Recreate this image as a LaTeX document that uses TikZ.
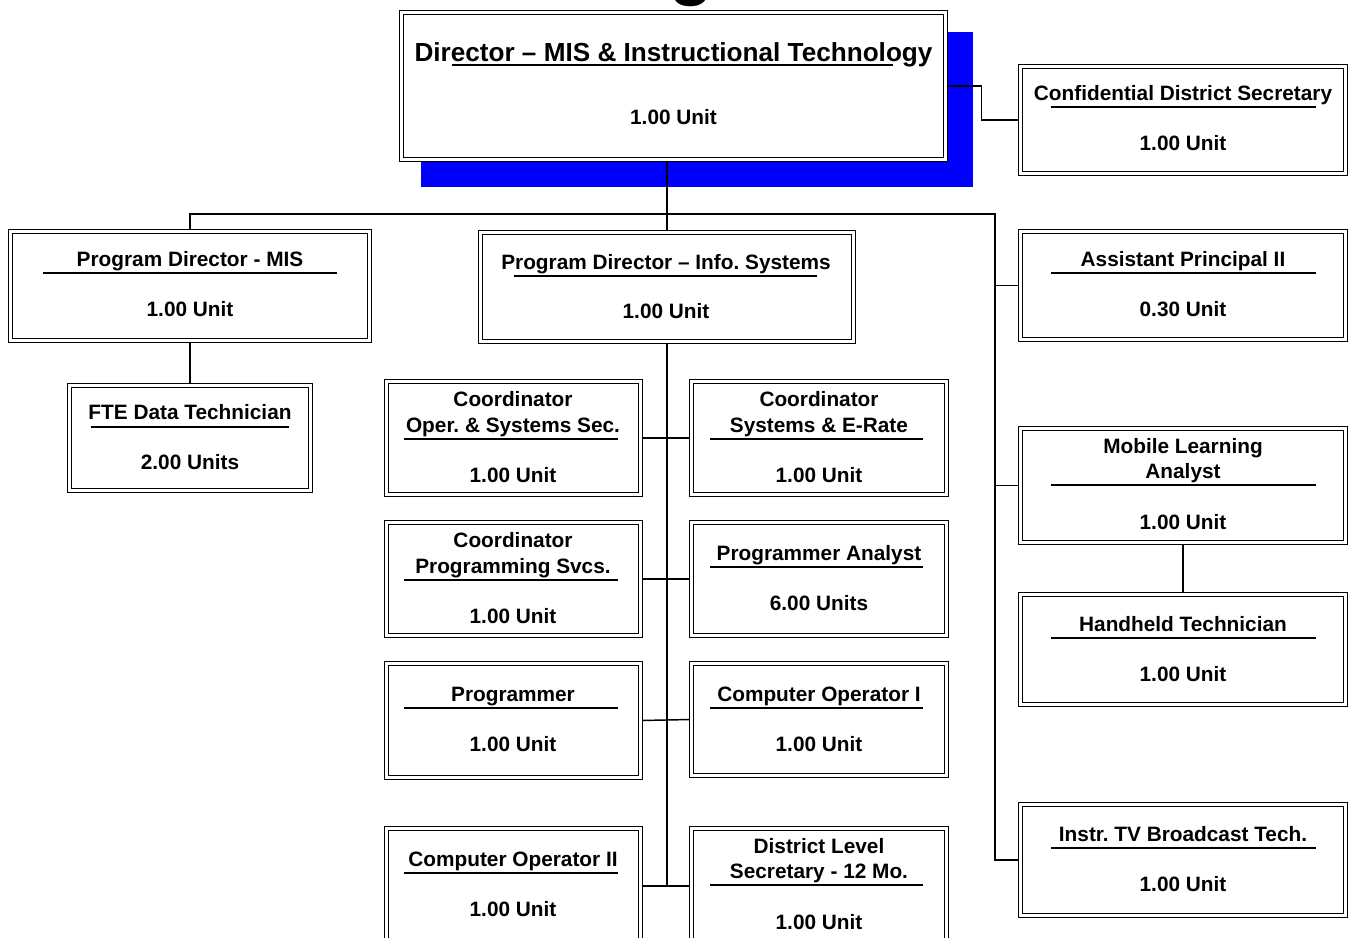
\documentclass[tikz,border=0pt]{standalone}
\usepackage{fontspec}
\setmainfont{Liberation Sans}
\frenchspacing
\begin{document}
\begin{tikzpicture}[x=0.75pt,y=-0.75pt,
  obx/.style={draw=black, fill=white, double=white, double distance=2.4pt*0.75,
    line width=1.05pt, rectangle, inner sep=0pt, outer sep=0pt},
  conn/.style={draw=black, line width=1.1pt},
  ul/.style={draw=black, line width=1.1pt},
  txt/.style={inner sep=0pt, anchor=base, font=\fontsize{15.6}{18}\selectfont\bfseries},
  bigtxt/.style={inner sep=0pt, anchor=base, font=\fontsize{19.6}{22}\selectfont\bfseries}]
\definecolor{shadowblue}{RGB}{0,0,255}
\useasboundingbox (0,0) rectangle (1354,938);
\clip (0,0) rectangle (1354,938);
\newcommand\obox[5]{\node[obx, minimum width={(#4-#2-5)*0.75pt}, minimum height={(#5-#3-5)*0.75pt}] (#1) at ({(#2+#4)/2},{(#3+#5)/2}) {};}
\newcommand\uline[3]{\draw[ul] (#1,#3) -- (#2,#3);}

% cut-off title
\node[inner sep=0pt, anchor=base, font=\fontsize{54}{54}\selectfont\bfseries] (title) at (691,-8) {g};

% shadow
\fill[shadowblue] (421,32) rectangle (973,187);

% boxes (drawn once to get anchors, connectors drawn below, then boxes again on top)
\obox{Dir}{399}{10}{948}{162}
\obox{Conf}{1018}{64}{1348}{176}
\obox{PDMIS}{8}{229}{372}{343}
\obox{InfoSys}{478}{230}{856}{344}
\obox{FTE}{67}{383}{313}{493}
\obox{AP}{1018}{229}{1348}{342}
\obox{COSS}{384}{379}{643}{497}
\obox{CSER}{689}{379}{949}{497}
\obox{CPS}{384}{520}{643}{638}
\obox{PA}{689}{520}{949}{638}
\obox{Prog}{384}{661}{643}{780}
\obox{COI}{689}{661}{949}{778}
\obox{COII}{384}{826}{643}{946}
\obox{DLS}{689}{826}{949}{946}
\obox{MLA}{1018}{426}{1348}{545}
\obox{HT}{1018}{592}{1348}{707}
\obox{ITV}{1018}{802}{1348}{918}

% coordinates for bus and spine
\coordinate (busR) at (995,214);
\coordinate (spineEnd) at (InfoSys.south |- COII.east);

% connectors
\draw[conn] (Dir.east) -- ++(36,0) |- (Conf.west);
\draw[conn] (InfoSys.north |- Dir.south) -- (InfoSys.north);
\draw[conn] (PDMIS.north) |- (busR) |- (ITV.west);
\draw[conn] (busR |- AP.west) -- (AP.west);
\draw[conn] (busR |- MLA.west) -- (MLA.west);
\draw[conn] (PDMIS.south) -- (FTE.north);
\draw[conn] (InfoSys.south) -- (spineEnd);
\draw[conn] (COSS.east) -- (CSER.west);
\draw[conn] (CPS.east) -- (PA.west);
\draw[conn] (Prog.east) -- (COI.west);
\draw[conn] (COII.east) -- (DLS.west);
\draw[conn] (MLA.south) -- (HT.north);

% boxes on top
\obox{Dir}{399}{10}{948}{162}
\obox{Conf}{1018}{64}{1348}{176}
\obox{PDMIS}{8}{229}{372}{343}
\obox{InfoSys}{478}{230}{856}{344}
\obox{FTE}{67}{383}{313}{493}
\obox{AP}{1018}{229}{1348}{342}
\obox{COSS}{384}{379}{643}{497}
\obox{CSER}{689}{379}{949}{497}
\obox{CPS}{384}{520}{643}{638}
\obox{PA}{689}{520}{949}{638}
\obox{Prog}{384}{661}{643}{780}
\obox{COI}{689}{661}{949}{778}
\obox{COII}{384}{826}{643}{946}
\obox{DLS}{689}{826}{949}{946}
\obox{MLA}{1018}{426}{1348}{545}
\obox{HT}{1018}{592}{1348}{707}
\obox{ITV}{1018}{802}{1348}{918}

% texts
\node[bigtxt] (Dir-t) at (673.5,62) {Director – MIS \& Instructional Technology};
\uline{452}{893}{65}
\node[txt] (Dir-u) at (673.5,124.5) {1.00 Unit};

\node[txt] (Conf-t) at (1183,100.5) {Confidential District Secretary};
\uline{1051}{1316}{107}
\node[txt] (Conf-u) at (1183,150.5) {1.00 Unit};

\node[txt] (PDMIS-t) at (190,266.5) {Program Director - MIS};
\uline{43}{337}{273}
\node[txt] (PDMIS-u) at (190,316.5) {1.00 Unit};

\node[txt] (InfoSys-t) at (666,269.5) {Program Director – Info. Systems};
\uline{514}{817}{276}
\node[txt] (InfoSys-u) at (666,318.5) {1.00 Unit};

\node[txt] (FTE-t) at (190,419.5) {FTE Data Technician};
\uline{91}{289}{427}
\node[txt] (FTE-u) at (190,469.5) {2.00 Units};

\node[txt] (AP-t) at (1183,266.5) {Assistant Principal II};
\uline{1051}{1316}{273}
\node[txt] (AP-u) at (1183,316.5) {0.30 Unit};

\node[txt] (COSS-t1) at (513,406.5) {Coordinator};
\node[txt] (COSS-t2) at (513,432.5) {Oper. \& Systems Sec.};
\uline{404}{618}{439}
\node[txt] (COSS-u) at (513,482.5) {1.00 Unit};

\node[txt] (CSER-t1) at (819,406.5) {Coordinator};
\node[txt] (CSER-t2) at (819,432.5) {Systems \& E-Rate};
\uline{710}{923}{439}
\node[txt] (CSER-u) at (819,482.5) {1.00 Unit};

\node[txt] (CPS-t1) at (513,547.5) {Coordinator};
\node[txt] (CPS-t2) at (513,573.5) {Programming Svcs.};
\uline{404}{618}{580}
\node[txt] (CPS-u) at (513,623.5) {1.00 Unit};

\node[txt] (PA-t) at (819,560.5) {Programmer Analyst};
\uline{710}{923}{567}
\node[txt] (PA-u) at (819,610.5) {6.00 Units};

\node[txt] (Prog-t) at (513,701.5) {Programmer};
\uline{404}{618}{708}
\node[txt] (Prog-u) at (513,751.5) {1.00 Unit};

\node[txt] (COI-t) at (819,701.5) {Computer Operator I};
\uline{710}{923}{708}
\node[txt] (COI-u) at (819,751.5) {1.00 Unit};

\node[txt] (COII-t) at (513,866.5) {Computer Operator II};
\uline{404}{618}{873}
\node[txt] (COII-u) at (513,916.5) {1.00 Unit};

\node[txt] (DLS-t1) at (819,853.5) {District Level};
\node[txt] (DLS-t2) at (819,878.5) {Secretary - 12 Mo.};
\uline{710}{923}{885}
\node[txt] (DLS-u) at (819,929.5) {1.00 Unit};

\node[txt] (MLA-t1) at (1183,453.5) {Mobile Learning};
\node[txt] (MLA-t2) at (1183,478.5) {Analyst};
\uline{1051}{1316}{485}
\node[txt] (MLA-u) at (1183,529.5) {1.00 Unit};

\node[txt] (HT-t) at (1183,631.5) {Handheld Technician};
\uline{1051}{1316}{638}
\node[txt] (HT-u) at (1183,681.5) {1.00 Unit};

\node[txt] (ITV-t) at (1183,841.5) {Instr. TV Broadcast Tech.};
\uline{1051}{1316}{848}
\node[txt] (ITV-u) at (1183,891.5) {1.00 Unit};
\end{tikzpicture}
\end{document}
